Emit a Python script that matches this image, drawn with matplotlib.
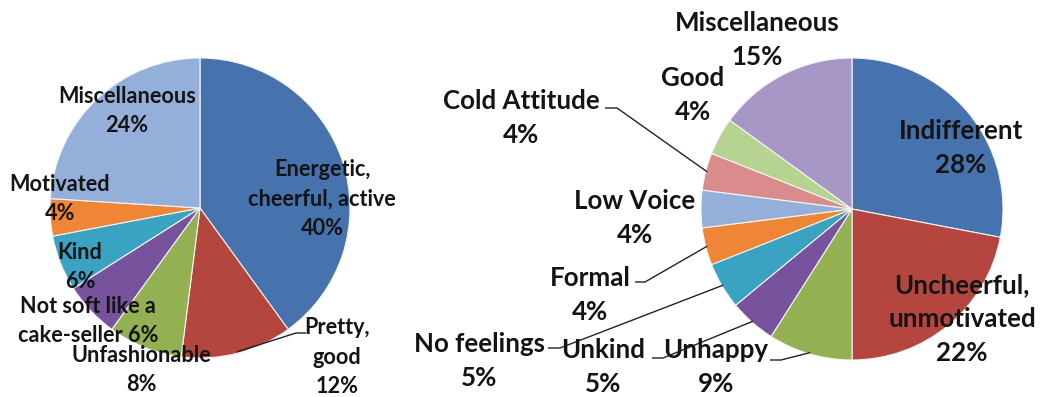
import matplotlib
matplotlib.use("Agg")
import matplotlib.pyplot as plt
import numpy as np

# ---- data -------------------------------------------------------------
left_labels = ["Energetic,\ncheerful, active", "Pretty,\ngood", "Unfashionable",
               "Not soft like a\ncake-seller", "Kind", "Motivated", "Miscellaneous"]
left_values = [40, 12, 8, 6, 6, 4, 24]

right_labels = ["Indifferent", "Uncheerful,\nunmotivated", "Unhappy", "Unkind",
                "No feelings", "Formal", "Low Voice", "Cold Attitude", "Good",
                "Miscellaneous"]
right_values = [28, 22, 9, 5, 5, 4, 4, 4, 4, 15]

# ---- styling ----------------------------------------------------------
left_colors = ["#4672AE", "#B5463F", "#93B052", "#77539E", "#3BA3C2",
               "#EE8636", "#95AFDB"]
right_colors = ["#4672AE", "#B5463F", "#93B052", "#77539E", "#3BA3C2",
                "#EE8636", "#95AFDB", "#DA8C8D", "#B6D391", "#A697C6"]

W, H, DPI = 1041, 397, 100
FONT = "Lato"
TEXT_COLOR = "#141414"
LEFT_SIZE = 15.6
RIGHT_SIZE = 18.6
LINESPACING = 1.5

# label block centres in figure pixels (x right, y down)
left_label_pos = [(322, 199), (337, 357), (141, 370), (88, 321), (80, 267),
                  (60, 199), (127, 111)]
left_joiners = ["\n", "\n", "\n", " ", "\n", "\n", "\n"]

right_label_pos = [(961, 148), (962, 319), (716, 367), (603, 367), (479, 361),
                   (590, 295), (635, 218), (521, 118), (693, 95), (757, 40)]

# leader lines: slice index -> (start point, elbow point) in figure pixels
left_leaders = {1: ((306, 333), (296, 333))}
right_leaders = {
    7: ((605, 108), (617, 108)),
    5: ((635, 282), (645, 282)),
    4: ((548, 348), (560, 348)),
    3: ((652, 358), (663, 358)),
    2: ((770, 360), (781, 360)),
}

fig = plt.figure(figsize=(W / DPI, H / DPI), dpi=DPI)
fig.patch.set_facecolor("white")

# overlay in pixel coordinates for labels and leader lines
overlay = fig.add_axes([0, 0, 1, 1], zorder=5)
overlay.set_xlim(0, W)
overlay.set_ylim(H, 0)
overlay.axis("off")
overlay.patch.set_alpha(0)


def pie_axes(cx, cy, r):
    ax = fig.add_axes([(cx - r) / W, (H - cy - r) / H, 2 * r / W, 2 * r / H])
    return ax


def draw_pie(ax, values, colors):
    wedges, _ = ax.pie(values, colors=colors, startangle=90, counterclock=False,
                       radius=1.0,
                       wedgeprops=dict(edgecolor="#f4f4f4", linewidth=0.8))
    ax.set_xlim(-1, 1)
    ax.set_ylim(-1, 1)
    ax.set_aspect("equal", adjustable="box")
    ax.axis("off")
    return wedges


def slice_point(ax, wedge, frac=0.99):
    mid = np.deg2rad((wedge.theta1 + wedge.theta2) / 2)
    disp = ax.transData.transform((frac * np.cos(mid), frac * np.sin(mid)))
    return overlay.transData.inverted().transform(disp)


def draw_labels(labels, values, positions, joiners, size):
    for lab, v, (x, y), j in zip(labels, values, positions, joiners):
        overlay.text(x, y, f"{lab}{j}{v}%", ha="center", va="center",
                     multialignment="center", fontsize=size, fontweight="bold",
                     family=FONT, color=TEXT_COLOR, linespacing=LINESPACING)


def draw_leaders(ax, wedges, leaders):
    for idx, (p0, p1) in leaders.items():
        p2 = slice_point(ax, wedges[idx])
        overlay.plot([p0[0], p1[0], p2[0]], [p0[1], p1[1], p2[1]],
                     color="#222222", lw=1.0, solid_capstyle="butt")


ax_left = pie_axes(200, 208, 150)
w_left = draw_pie(ax_left, left_values, left_colors)

ax_right = pie_axes(852, 209, 151)
w_right = draw_pie(ax_right, right_values, right_colors)

draw_leaders(ax_left, w_left, left_leaders)
draw_leaders(ax_right, w_right, right_leaders)

draw_labels(left_labels, left_values, left_label_pos, left_joiners, LEFT_SIZE)
draw_labels(right_labels, right_values, right_label_pos,
            ["\n"] * len(right_labels), RIGHT_SIZE)

fig.savefig("out.png", dpi=DPI, facecolor="white")
